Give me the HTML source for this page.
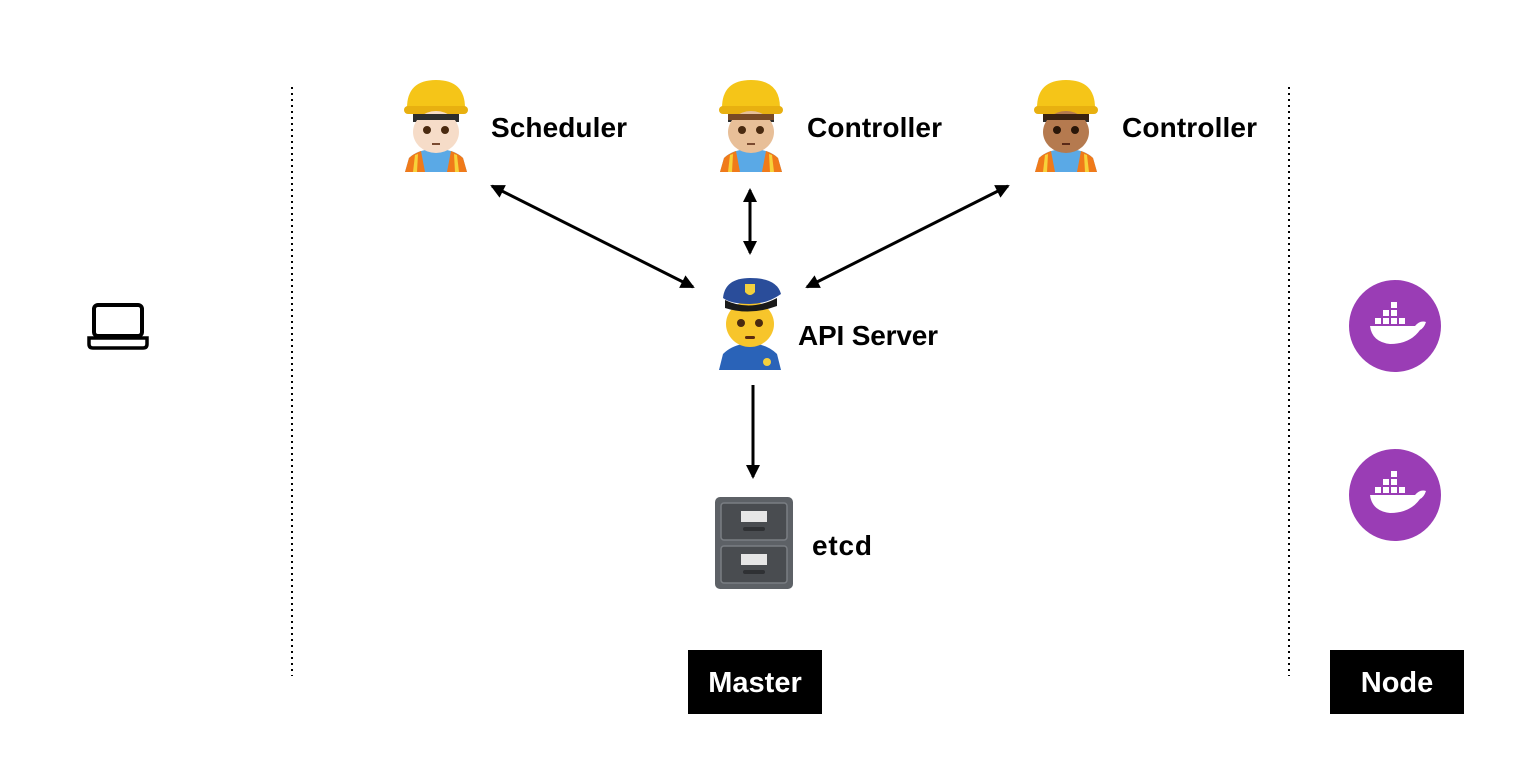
<!DOCTYPE html>
<html><head><style>
body{margin:0;background:#fff;}
svg{display:block}
text{font-family:"Liberation Sans",sans-serif;font-weight:bold;}
</style></head><body>
<svg width="1530" height="757" viewBox="0 0 1530 757" xmlns="http://www.w3.org/2000/svg">
<defs>
<marker id="ah" markerWidth="14" markerHeight="14" refX="12" refY="7" orient="auto-start-reverse" markerUnits="userSpaceOnUse">
<path d="M0,0 L14,7 L0,14 z" fill="#000"/></marker>
<g id="wbody">
<path d="M2,94 L6,80 Q12,74 22,72 L44,72 Q54,74 60,80 L64,94 Z" fill="#5aa9e6"/>
<path d="M2,94 L6,80 Q10,76 18,73 L22,94 Z" fill="#f07a1a"/>
<path d="M64,94 L60,80 Q56,76 48,73 L44,94 Z" fill="#f07a1a"/>
<path d="M10,94 L12,77 L15,76 L14,94Z" fill="#f7d23a"/>
<path d="M56,94 L54,77 L51,76 L52,94Z" fill="#f7d23a"/>
<path d="M4,30 Q4,2 33,2 Q62,2 62,30 Z" fill="#f5c518"/>
<rect x="1" y="28" width="64" height="8" rx="4" fill="#e8b010"/>
<rect x="10" y="36" width="46" height="8" fill="#2d2d2d"/>
</g>
</defs>

<line x1="292" y1="87" x2="292" y2="676" stroke="#000" stroke-width="2" stroke-dasharray="2,4"/>
<line x1="1289" y1="87" x2="1289" y2="676" stroke="#000" stroke-width="2" stroke-dasharray="2,4"/>

<rect x="94" y="305" width="48" height="31" rx="4" fill="none" stroke="#000" stroke-width="4"/>
<path d="M89,338 L147,338 L147,344 Q147,348 143,348 L93,348 Q89,348 89,344 Z" fill="none" stroke="#000" stroke-width="3.5"/>

<g transform="translate(403,78)">
<use href="#wbody"/>
<ellipse cx="33" cy="54" rx="23" ry="21" fill="#f6dcc8"/>
<rect x="10" y="36" width="46" height="6" fill="#2d2d2d"/>
<circle cx="24" cy="52" r="4" fill="#4a2a10"/><circle cx="42" cy="52" r="4" fill="#4a2a10"/>
<rect x="29" y="65" width="8" height="2" fill="#7a4a30"/>
</g>
<g transform="translate(718,78)">
<use href="#wbody"/>
<ellipse cx="33" cy="54" rx="23" ry="21" fill="#e8bf98"/>
<rect x="10" y="36" width="46" height="6" fill="#7a4a25"/>
<circle cx="24" cy="52" r="4" fill="#4a2a10"/><circle cx="42" cy="52" r="4" fill="#4a2a10"/>
<rect x="29" y="65" width="8" height="2" fill="#7a4a30"/>
</g>
<g transform="translate(1033,78)">
<use href="#wbody"/>
<ellipse cx="33" cy="54" rx="23" ry="21" fill="#b57a4f"/>
<rect x="10" y="36" width="46" height="6" fill="#3a2210"/>
<circle cx="24" cy="52" r="4" fill="#2a1608"/><circle cx="42" cy="52" r="4" fill="#2a1608"/>
<rect x="29" y="65" width="8" height="2" fill="#5a2a18"/>
</g>
<text x="491" y="137" font-size="28" textLength="136">Scheduler</text>
<text x="807" y="137" font-size="28" textLength="135">Controller</text>
<text x="1122" y="137" font-size="28" textLength="135">Controller</text>

<g transform="translate(717,278)">
<path d="M2,92 L6,76 Q14,68 26,66 L40,66 Q52,68 60,76 L64,92 Z" fill="#2a63b8"/>
<ellipse cx="33" cy="46" rx="24" ry="23" fill="#f7c52b"/>
<path d="M6,20 Q8,0 33,0 Q60,0 64,16 Q50,26 33,26 Q14,26 6,20Z" fill="#2a4d9a"/>
<path d="M8,22 Q33,34 60,20 L60,28 Q33,38 8,30Z" fill="#1a1a1a"/>
<path d="M28,6 L38,6 L38,14 Q33,20 28,14Z" fill="#f3d03e"/>
<circle cx="24" cy="45" r="4" fill="#4a2a10"/><circle cx="42" cy="45" r="4" fill="#4a2a10"/>
<rect x="28" y="58" width="10" height="3" rx="1.5" fill="#5a2a10"/>
<circle cx="50" cy="84" r="4" fill="#f3d03e"/>
</g>
<text x="798" y="345" font-size="28" textLength="140">API Server</text>

<g transform="translate(715,497)">
<rect x="0" y="0" width="78" height="92" rx="5" fill="#5d6166"/>
<rect x="6" y="6" width="66" height="37" rx="3" fill="#494c50" stroke="#7a7e83" stroke-width="1.5"/>
<rect x="6" y="49" width="66" height="37" rx="3" fill="#494c50" stroke="#7a7e83" stroke-width="1.5"/>
<rect x="26" y="14" width="26" height="11" fill="#e6e6e6"/>
<rect x="26" y="57" width="26" height="11" fill="#e6e6e6"/>
<rect x="28" y="30" width="22" height="4" rx="2" fill="#2f3134"/>
<rect x="28" y="73" width="22" height="4" rx="2" fill="#2f3134"/>
</g>
<text x="812" y="555" font-size="28" textLength="60">etcd</text>

<g stroke="#000" stroke-width="3" fill="none">
<line x1="492" y1="186" x2="693" y2="287" marker-start="url(#ah)" marker-end="url(#ah)"/>
<line x1="750" y1="190" x2="750" y2="253" marker-start="url(#ah)" marker-end="url(#ah)"/>
<line x1="1008" y1="186" x2="807" y2="287" marker-start="url(#ah)" marker-end="url(#ah)"/>
<line x1="753" y1="385" x2="753" y2="477" marker-end="url(#ah)"/>
</g>

<g id="dk">
<circle cx="1395" cy="326" r="46" fill="#9a3db5"/>
<path d="M1370,326 L1415,326 Q1420,320 1426,322 Q1424,328 1420,330 Q1410,344 1390,344 Q1372,342 1370,326Z" fill="#fff"/>
<g fill="#fff"><rect x="1375" y="318" width="6" height="6"/><rect x="1383" y="318" width="6" height="6"/><rect x="1391" y="318" width="6" height="6"/><rect x="1399" y="318" width="6" height="6"/><rect x="1383" y="310" width="6" height="6"/><rect x="1391" y="310" width="6" height="6"/><rect x="1391" y="302" width="6" height="6"/></g>
</g>
<use href="#dk" transform="translate(0,169)"/>

<rect x="688" y="650" width="134" height="64" fill="#000"/>
<text x="755" y="692" font-size="29" fill="#fff" text-anchor="middle">Master</text>
<rect x="1330" y="650" width="134" height="64" fill="#000"/>
<text x="1397" y="692" font-size="29" fill="#fff" text-anchor="middle">Node</text>
</svg>
</body></html>
